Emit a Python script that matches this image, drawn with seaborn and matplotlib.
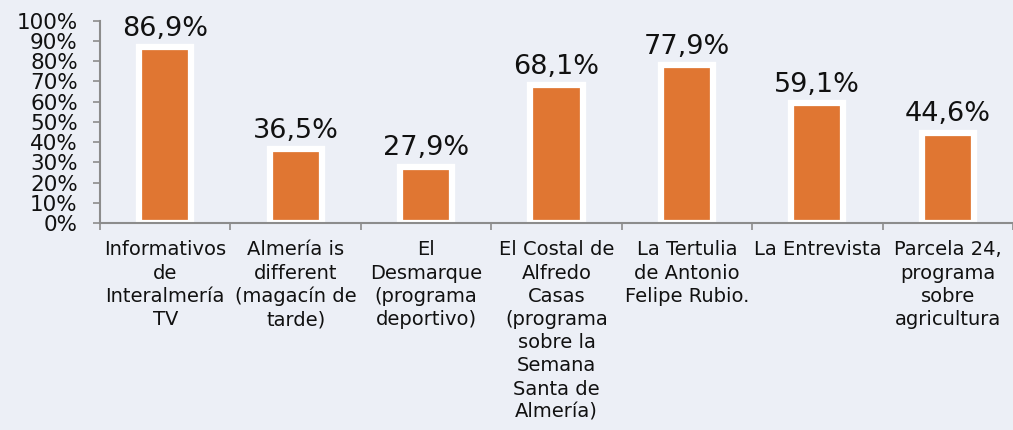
import matplotlib
matplotlib.use("Agg")
import matplotlib.pyplot as plt
import seaborn as sns
import pandas as pd
from matplotlib.ticker import FixedLocator, PercentFormatter

programas = [
    "Informativos\nde\nInteralmería\nTV",
    "Almería is\ndifferent\n(magacín de\ntarde)",
    "El\nDesmarque\n(programa\ndeportivo)",
    "El Costal de\nAlfredo\nCasas\n(programa\nsobre la\nSemana\nSanta de\nAlmería)",
    "La Tertulia\nde Antonio\nFelipe Rubio.",
    "La Entrevista",
    "Parcela 24,\nprograma\nsobre\nagricultura",
]
porcentajes = [86.9, 36.5, 27.9, 68.1, 77.9, 59.1, 44.6]

bg = "#eceff6"
naranja = "#e07632"
gris = "#8c8c8c"

sns.set_style("white")
plt.rcParams["font.family"] = ["DejaVu Sans"]

df = pd.DataFrame({"programa": programas, "pct": porcentajes})

fig = plt.figure(figsize=(10.13, 4.30), dpi=100, facecolor=bg)
ax = fig.add_axes([100 / 1013, 207 / 430, 913 / 1013, 202.3 / 430])
ax.set_facecolor(bg)

sns.barplot(data=df, x="programa", y="pct", color=naranja, width=0.4,
            edgecolor="white", linewidth=4.5, saturation=1, ax=ax)

etiquetas = [f"{v:.1f}".replace(".", ",") + "%" for v in porcentajes]
ax.bar_label(ax.containers[0], labels=etiquetas, padding=4, fontsize=19.5,
             color="#111111")

ax.set_xlim(-0.5, len(programas) - 0.5)
ax.set_ylim(0, 100)
ax.yaxis.set_major_locator(FixedLocator(range(0, 101, 10)))
ax.yaxis.set_major_formatter(PercentFormatter(decimals=0))
ax.set_xlabel("")
ax.set_ylabel("")

for s in ["top", "right"]:
    ax.spines[s].set_visible(False)
for s in ["left", "bottom"]:
    ax.spines[s].set_color(gris)
    ax.spines[s].set_linewidth(1.5)

ax.tick_params(axis="y", left=True, direction="out", length=5, width=1.2,
               color=gris, pad=11, labelsize=15.5, labelcolor="#111111")
ax.tick_params(axis="x", which="major", bottom=False, pad=9, labelsize=14,
               labelcolor="#111111")
ax.xaxis.set_minor_locator(FixedLocator([i - 0.5 for i in range(len(programas) + 1)]))
ax.tick_params(axis="x", which="minor", bottom=True, direction="out", length=5,
               width=1.2, color=gris)
for t in ax.get_xticklabels():
    t.set_multialignment("center")
    t.set_linespacing(1.28)
    t.set_verticalalignment("top")

fig.savefig("out.png", dpi=100, facecolor=bg)
